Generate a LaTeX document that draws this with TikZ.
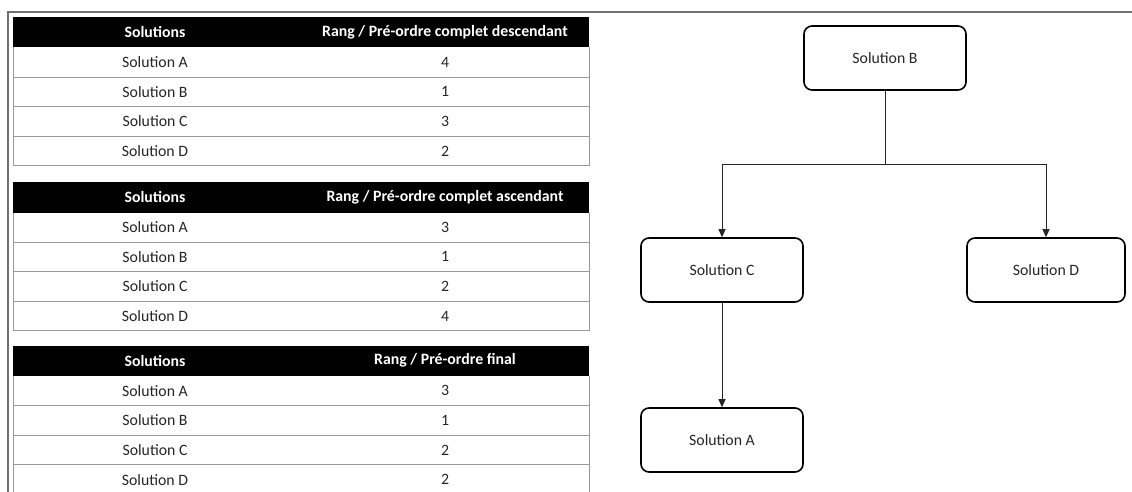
\documentclass[tikz,border=0pt]{standalone}
\usepackage{fontspec}
\setmainfont{Carlito}
\usetikzlibrary{arrows.meta,positioning}
\definecolor{txt}{HTML}{262626}
\definecolor{rule}{HTML}{9A9A9A}
\definecolor{frame}{HTML}{707070}
\tikzset{
  cell/.style={font=\fontsize{15.8}{18}\selectfont, text=txt, inner sep=0pt, anchor=center},
  headcell/.style={font=\bfseries\fontsize{15.8}{18}\selectfont, text=white, inner sep=0pt, anchor=center},
  solbox/.style={draw=black, line width=1.6pt, rounded corners=8pt, minimum width=162pt, minimum height=64pt, font=\fontsize{15.8}{18}\selectfont, text=txt, inner sep=0pt},
  link/.style={draw=black!85, line width=1pt, -{Triangle[length=8pt,width=7pt]}},
  link0/.style={draw=black!85, line width=1pt},
}
% \mytable{prefix}{top}{header2}{v1}{v2}{v3}{v4}
\newcommand{\mytable}[7]{%
  \pgfmathsetmacro{\ta}{#2}
  \pgfmathsetmacro{\tb}{#2+30.5}
  \pgfmathsetmacro{\rA}{\tb+29.6}
  \pgfmathsetmacro{\rB}{\tb+2*29.6}
  \pgfmathsetmacro{\rC}{\tb+3*29.6}
  \pgfmathsetmacro{\rD}{\tb+4*29.6}
  \fill[black] (13,\ta) rectangle (589,\tb);
  \draw[rule, line width=1pt] (13,\tb) -- (13,\rD) -- (589,\rD) -- (589,\tb);
  \draw[rule, line width=1pt] (13,\rA) -- (589,\rA);
  \draw[rule, line width=1pt] (13,\rB) -- (589,\rB);
  \draw[rule, line width=1pt] (13,\rC) -- (589,\rC);
  \node[headcell] (#1h1) at (155,{(\ta+\tb)/2}) {Solutions};
  \node[headcell] (#1h2) at (445,{(\ta+\tb)/2}) {#3};
  \node[cell] (#1a1) at (155,{(\tb+\rA)/2}) {Solution A};
  \node[cell] (#1a2) at (445,{(\tb+\rA)/2}) {#4};
  \node[cell] (#1b1) at (155,{(\rA+\rB)/2}) {Solution B};
  \node[cell] (#1b2) at (445,{(\rA+\rB)/2}) {#5};
  \node[cell] (#1c1) at (155,{(\rB+\rC)/2}) {Solution C};
  \node[cell] (#1c2) at (445,{(\rB+\rC)/2}) {#6};
  \node[cell] (#1d1) at (155,{(\rC+\rD)/2}) {Solution D};
  \node[cell] (#1d2) at (445,{(\rC+\rD)/2}) {#7};
}
\begin{document}
\begin{tikzpicture}[x=1pt,y=-1pt]
\useasboundingbox (0,0) rectangle (1132,492);
\clip (0,0) rectangle (1132,492);
\fill[white] (0,0) rectangle (1132,492);
% outer frame
\draw[frame, line width=2.2pt] (8,500) -- (8,12) -- (1134,12);

\mytable{t1}{17}{Rang / Pré-ordre complet descendant}{4}{1}{3}{2}
\mytable{t2}{182}{Rang / Pré-ordre complet ascendant}{3}{1}{2}{4}
\mytable{t3}{345.5}{Rang / Pré-ordre final}{3}{1}{2}{2}

% diagram
\node[solbox] (B) at (885,58) {Solution B};
\node[solbox] (C) at (722,270) {Solution C};
\node[solbox, minimum width=158pt] (D) at (1046,270) {Solution D};
\node[solbox] (A) at (722,440) {Solution A};
\coordinate (split) at (885,164);
\draw[link0] (B.south) -- (split);
\draw[link] (split) -| (C.north);
\draw[link] (split) -| (D.north);
\draw[link] (C.south) -- (A.north);
\end{tikzpicture}
\end{document}
